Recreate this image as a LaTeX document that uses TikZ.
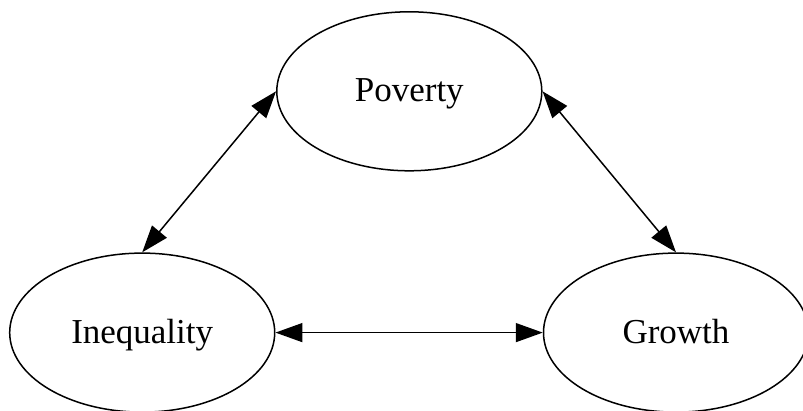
\documentclass[tikz,border=0pt]{standalone}
\usepackage{fontspec}
\setmainfont{Liberation Serif}
\usetikzlibrary{shapes.geometric,arrows.meta}
\begin{document}
\begin{tikzpicture}[x=1pt,y=-1pt,
  factor/.style={draw,ellipse,line width=1.5pt,minimum width=265pt,minimum height=159pt,inner sep=0pt,
    text height=25pt,text depth=4pt,font=\fontsize{35}{40}\selectfont},
  link/.style={{Triangle[length=27pt,width=19pt]}-{Triangle[length=27pt,width=19pt]},line width=1.5pt}]
\useasboundingbox (0,0) rectangle (803,410);
\node[factor] (poverty) at (409.3,91.3) {Poverty};
\node[factor] (inequality) at (142.2,332.6) {Inequality};
\node[factor] (growth) at (676,332.6) {Growth};
\draw[link] (poverty.west) -- (inequality.north);
\draw[link] (poverty.east) -- (growth.north);
\draw[link] (inequality.east) -- (growth.west);
\end{tikzpicture}
\end{document}
